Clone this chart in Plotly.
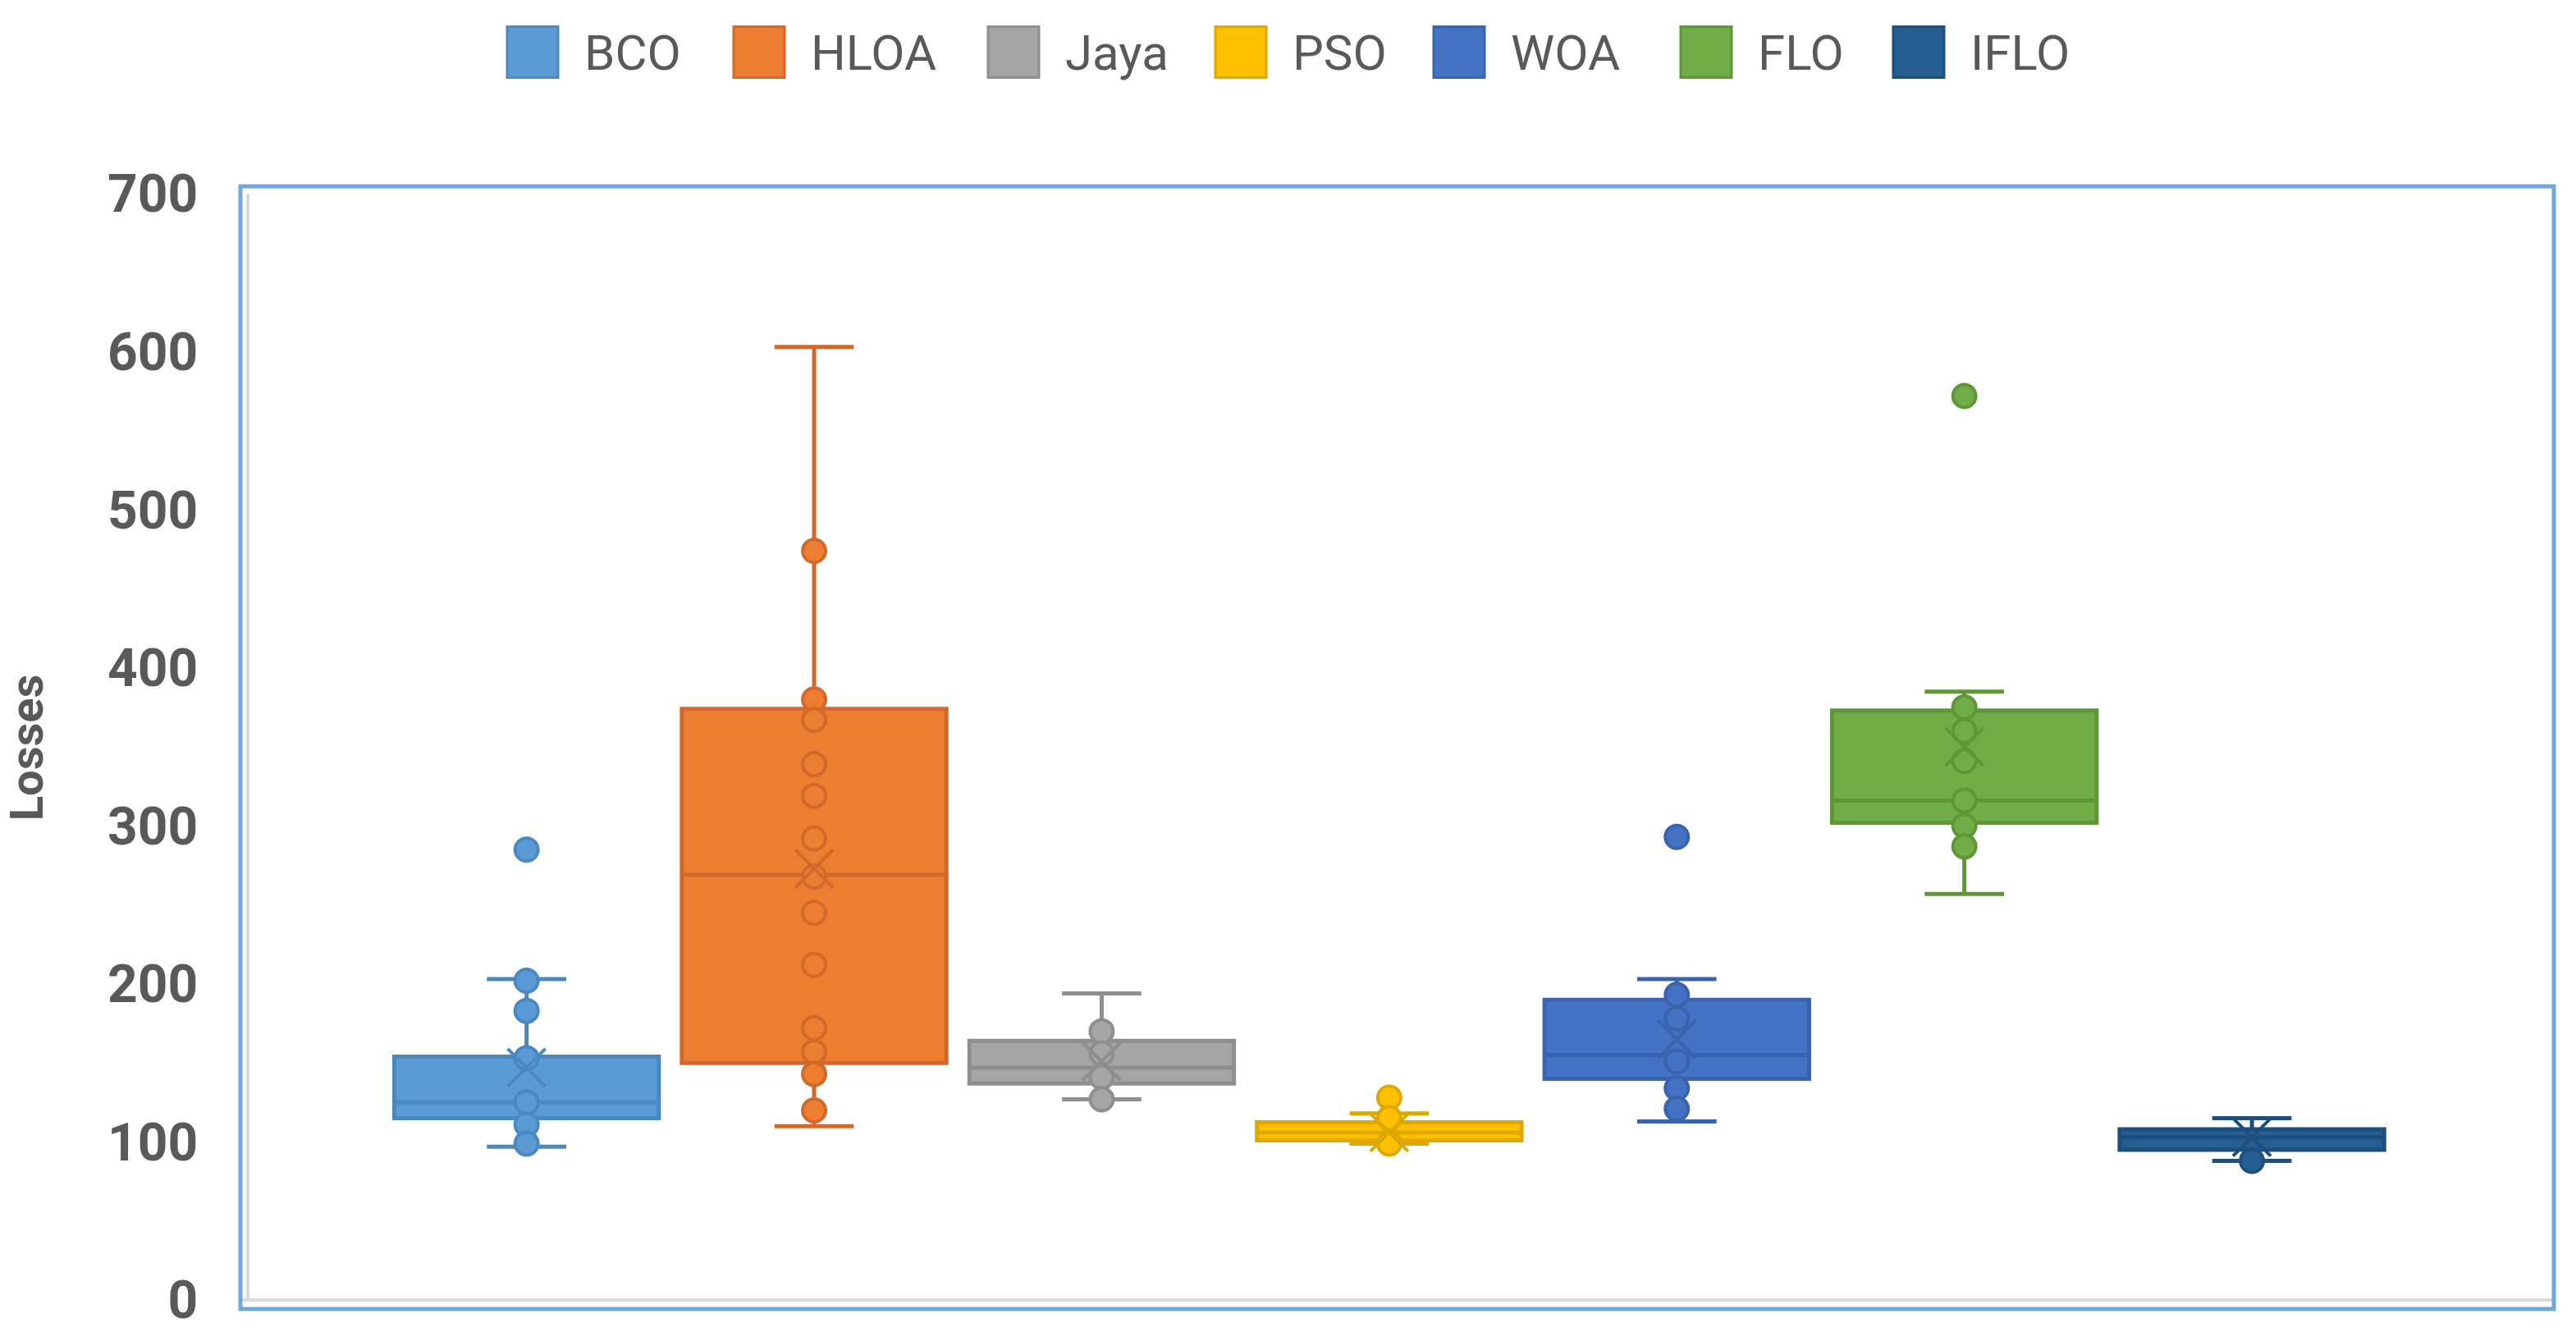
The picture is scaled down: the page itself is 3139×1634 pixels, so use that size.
import plotly.graph_objects as go

# Verluste je Algorithmus
names = ["BCO", "HLOA", "Jaya", "PSO", "WOA", "FLO", "IFLO"]

lower_fence = [97, 110, 127, 99, 113, 257, 88]
q1 = [115, 150, 137, 101, 140, 302, 95]
median = [125, 269, 147, 106, 155, 316, 103]
q3 = [154, 374, 164, 112.5, 190, 373, 108]
upper_fence = [203, 603, 194, 118, 203, 385, 115]
mean = [147, 273, 151, 106, 165, 350, 103]

pts_bco = [285, 202, 183, 153, 125, 111, 99]
pts_hloa = [474, 380, 367, 339, 319, 292, 268, 245, 212, 172, 157, 143, 120]
pts_jaya = [170, 156, 141, 127]
pts_pso = [128, 115, 99]
pts_woa = [293, 193, 178, 151, 134, 121]
pts_flo = [572, 375, 360, 341, 316, 300, 287]
pts_iflo = [88]
points = [pts_bco, pts_hloa, pts_jaya, pts_pso, pts_woa, pts_flo, pts_iflo]

y_ticks = [0, 100, 200, 300, 400, 500, 600, 700]

# Office-Farben
colors = ["#5B9BD5", "#ED7D31", "#A5A5A5", "#FFC000", "#4472C4", "#70AD47", "#255E91"]
dark = ["#4A88C2", "#D2692A", "#8E8E8E", "#DDA800", "#3A63AE", "#5E9638", "#1E4F7C"]

W, H = 3139, 1634
L, R, T, B = 293, 3112, 227, 1599  # Rahmen des Plotbereichs in px


def px_x(x):
    return (x - L) / (R - L)


def px_y(y):
    return (B - y) / (B - T)


fig = go.Figure()

for i, n in enumerate(names):
    fig.add_trace(go.Box(
        x=[i], q1=[q1[i]], median=[median[i]], q3=[q3[i]],
        lowerfence=[lower_fence[i]], upperfence=[upper_fence[i]],
        name=n, width=0.92, whiskerwidth=0.3,
        fillcolor=colors[i], line=dict(color=dark[i], width=5),
        boxpoints=False, showlegend=False, hoverinfo="skip",
    ))
    fig.add_trace(go.Scatter(
        x=[i] * len(points[i]), y=points[i], mode="markers",
        marker=dict(size=28, color=colors[i], line=dict(color=dark[i], width=4)),
        showlegend=False, hoverinfo="skip",
    ))
    fig.add_trace(go.Scatter(
        x=[i], y=[mean[i]], mode="markers",
        marker=dict(symbol="x-thin-open", size=46, color=dark[i],
                    line=dict(color=dark[i], width=4)),
        showlegend=False, hoverinfo="skip",
    ))

# Legende von Hand (Excel-Stil, grosse Quadrate)
leg_left = [618, 894, 1204, 1481, 1747, 2048, 2307]
shapes = []
annotations = []
for i, n in enumerate(names):
    shapes.append(dict(type="rect", xref="paper", yref="paper",
                       x0=px_x(leg_left[i]), x1=px_x(leg_left[i] + 62),
                       y0=px_y(94), y1=px_y(32),
                       fillcolor=colors[i], line=dict(color=dark[i], width=3)))
    annotations.append(dict(xref="paper", yref="paper", x=px_x(leg_left[i] + 92), y=px_y(64),
                            text=n, showarrow=False, xanchor="left", yanchor="middle",
                            font=dict(family="Roboto", size=60, color="#595959")))

# blauer Rahmen und graue Achsenlinien
shapes.append(dict(type="line", xref="paper", yref="paper", x0=px_x(302), x1=px_x(302),
                   y0=px_y(1590), y1=px_y(236), line=dict(color="#D9D9D9", width=4), layer="below"))
shapes.append(dict(type="rect", xref="paper", yref="paper", x0=0, x1=1, y0=0, y1=1,
                   line=dict(color="#6FA8DC", width=5)))

fig.update_layout(
    width=W, height=H,
    margin=dict(l=L, r=W - R, t=T, b=H - B),
    paper_bgcolor="white", plot_bgcolor="white",
    shapes=shapes, annotations=annotations,
    xaxis=dict(range=[-0.995, 7.05], showticklabels=False, showgrid=False,
               zeroline=False, showline=False, ticks=""),
    yaxis=dict(range=[-5.7, 704.7], tickvals=y_ticks, showgrid=False,
               zeroline=True, zerolinecolor="#D9D9D9", zerolinewidth=4,
               ticks="outside", ticklen=38, tickcolor="rgba(0,0,0,0)",
               tickfont=dict(family="Roboto", size=64, color="#595959", weight="bold"),
               title=dict(text="Losses", standoff=60,
                          font=dict(family="Roboto", size=56, color="#595959", weight="bold"))),
)

fig.write_html("out.html", config={"displayModeBar": False},
               post_script="document.body.style.margin='0';")
